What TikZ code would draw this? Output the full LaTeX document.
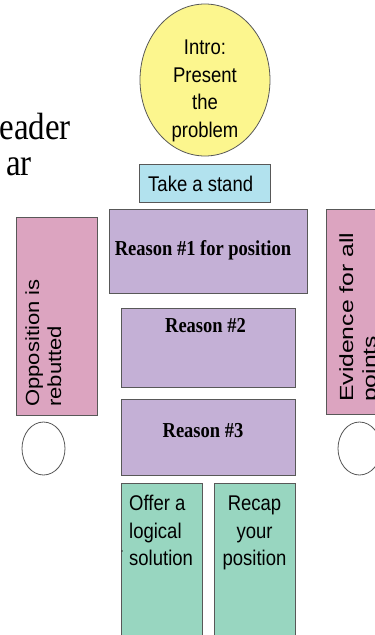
\documentclass[tikz,border=0pt]{standalone}
\usepackage{graphicx}
\usepackage{fontspec}
\setmainfont{Liberation Sans}
\newfontfamily\serifd{Liberation Serif}
\usetikzlibrary{shapes.geometric}
\definecolor{edgec}{RGB}{88,88,88}
\definecolor{introY}{RGB}{252,246,142}
\definecolor{standB}{RGB}{178,226,238}
\definecolor{reasonP}{RGB}{196,176,214}
\definecolor{sideP}{RGB}{220,164,192}
\definecolor{endG}{RGB}{152,214,192}
\newcommand\talltxt[1]{\scalebox{1}[1.15]{#1}}
\newcommand\longtxt[2]{\scalebox{#1}[1]{#2}}
\begin{document}
\begin{tikzpicture}[x=1pt,y=-1pt,
  boxs/.style={rectangle,draw=edgec,line width=0.8pt,inner sep=0pt},
  sans/.style={inner sep=0pt,font=\fontsize{18.5}{22}\selectfont},
  rot/.style={inner sep=0pt,rotate=90,anchor=base west,font=\fontsize{19}{22}\selectfont},
  reas/.style={inner sep=0pt,anchor=base,font=\serifd\bfseries\fontsize{18.5}{22}\selectfont},
  bigserif/.style={inner sep=0pt,anchor=base east,font=\serifd\fontsize{33}{38}\selectfont}]
\useasboundingbox (0,0) rectangle (375,635);
\clip (0,0) rectangle (375,635);
\fill[white] (0,0) rectangle (375,635);

% partial title text
\node[bigserif] (t1) at (71,139) {\talltxt{eader}};
\node[bigserif] (t2) at (32,175) {\talltxt{ar}};

% intro ellipse
\node[ellipse,draw=edgec,line width=0.8pt,fill=introY,minimum width=130pt,minimum height=152pt,inner sep=0pt] (intro) at (205,80) {};
\node[sans,anchor=base] (i1) at (205,54) {\talltxt{Intro:}};
\node[sans,anchor=base] (i2) at (205,82) {\talltxt{Present}};
\node[sans,anchor=base] (i3) at (205,109.5) {\talltxt{the}};
\node[sans,anchor=base] (i4) at (205,137) {\talltxt{problem}};

% take a stand
\node[boxs,fill=standB,minimum width=131pt,minimum height=38pt] (stand) at (204.5,183) {};
\node[sans,anchor=base west] (standt) at (148,191) {\talltxt{Take a stand}};

% reasons
\node[boxs,fill=reasonP,minimum width=198pt,minimum height=84pt] (r1) at (208,251) {};
\node[reas] (r1t) at (203,255) {\talltxt{Reason \#1 for position}};
\node[boxs,fill=reasonP,minimum width=174pt,minimum height=79pt] (r2) at (208,347.5) {};
\node[reas] (r2t) at (205.5,332) {\talltxt{Reason \#2}};
\node[boxs,fill=reasonP,minimum width=174pt,minimum height=76pt] (r3) at (208,437) {};
\node[reas] (r3t) at (203,437) {\talltxt{Reason \#3}};

% conclusion boxes
\node[boxs,fill=endG,minimum width=81pt,minimum height=160pt] (offer) at (161.5,563) {};
\node[sans,anchor=base west] (o1) at (129,510) {\talltxt{Offer a}};
\node[sans,anchor=base west] (o2) at (129,538) {\talltxt{logical}};
\node[sans,anchor=base west] (o3) at (129,565.5) {\talltxt{solution}};
\fill[black!80] (122,551) circle (0.9pt);
\node[boxs,fill=endG,minimum width=81pt,minimum height=160pt] (recap) at (254.5,563) {};
\node[sans,anchor=base] (c1) at (254.5,510) {\talltxt{Recap}};
\node[sans,anchor=base] (c2) at (254.5,538) {\talltxt{your}};
\node[sans,anchor=base] (c3) at (254.5,565.5) {\talltxt{position}};

% side panels
\node[boxs,fill=sideP,minimum width=81pt,minimum height=198pt] (opp) at (56.5,316) {};
\node[rot] (opp1) at (39,407) {\longtxt{1.16}{Opposition is}};
\node[rot] (opp2) at (61,407) {\longtxt{1.16}{rebutted}};
\node[boxs,fill=sideP,minimum width=81pt,minimum height=205pt] (evid) at (366.5,311.5) {};
\node[rot] (ev1) at (353,402) {\longtxt{1.3}{Evidence for all}};
\node[rot] (ev2) at (376,402) {\longtxt{1.3}{points}};

% hands
\node[ellipse,draw=edgec,line width=0.8pt,fill=white,minimum width=43pt,minimum height=53pt,inner sep=0pt] (lh) at (43.5,448.5) {};
\node[ellipse,draw=edgec,line width=0.8pt,fill=white,minimum width=43pt,minimum height=53pt,inner sep=0pt] (rh) at (359.5,448.5) {};
\end{tikzpicture}
\end{document}
